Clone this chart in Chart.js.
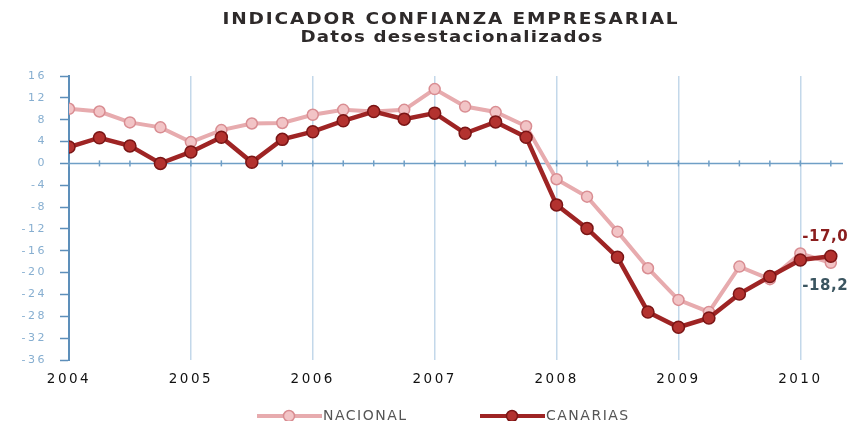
<!DOCTYPE html>
<html>
<head>
<meta charset="utf-8">
<script src="https://cdn.jsdelivr.net/npm/chart.js@4/dist/chart.umd.min.js"></script>
<style>
html,body{margin:0;padding:0;background:#fff;}
#wrap{width:853px;height:421px;position:relative;}
</style>
</head>
<body>
<div id="wrap"><canvas id="c" width="853" height="421"></canvas></div>
<script>
// Quarterly data, 2004 Q1 .. 2010 Q2
const years = ["2004","2005","2006","2007","2008","2009","2010"];
const quarterIndex = [0,1,2,3,4,5,6,7,8,9,10,11,12,13,14,15,16,17,18,19,20,21,22,23,24,25];
const nacional = [10.0,9.5,7.5,6.6,3.9,6.1,7.3,7.4,8.9,9.8,9.5,9.8,13.6,10.4,9.4,6.8,-2.9,-6.1,-12.5,-19.2,-25.0,-27.2,-18.9,-21.2,-16.5,-18.2];
const canarias = [3.0,4.7,3.2,0.0,2.1,4.8,0.2,4.4,5.8,7.8,9.5,8.1,9.2,5.5,7.6,4.8,-7.6,-11.9,-17.2,-27.2,-30.0,-28.3,-23.9,-20.7,-17.7,-17.0];
const yTicks = [16,12,8,4,0,-4,-8,-12,-16,-20,-24,-28,-32,-36];
const endLabels = {canarias:"-17,0", nacional:"-18,2"};
const titleLines = ["INDICADOR CONFIANZA EMPRESARIAL","Datos desestacionalizados"];

const pts = arr => arr.map((v,i)=>({x:quarterIndex[i], y:v}));

// draw text horizontally stretched to a target width (the reference is a stretched image)
function stretchText(ctx, text, cx, cy, target, extraSpacing){
  ctx.letterSpacing = (extraSpacing||0) + 'px';
  const w0 = ctx.measureText(text).width;
  const sx = target / w0;
  ctx.save();
  ctx.translate(cx - target/2, cy);
  ctx.scale(sx, 1);
  ctx.textAlign = 'left';
  ctx.fillText(text, 0, 0);
  ctx.restore();
  ctx.letterSpacing = '0px';
}

const deco = {
  id:'deco',
  beforeDraw(chart){
    chart.ctx.letterSpacing = '2.5px';
  },
  beforeDatasetsDraw(chart){
    const {ctx, scales:{x,y}, chartArea} = chart;
    const y0 = y.getPixelForValue(0);
    ctx.save();
    ctx.strokeStyle = '#6f9fc6';
    ctx.lineWidth = 1.5;
    quarterIndex.forEach(i=>{
      const px = x.getPixelForValue(i);
      ctx.beginPath(); ctx.moveTo(px, y0-3); ctx.lineTo(px, y0+3); ctx.stroke();
    });
    ctx.beginPath(); ctx.moveTo(chartArea.left, y0); ctx.lineTo(chartArea.right, y0); ctx.stroke();
    ctx.restore();
  },
  afterDraw(chart){
    const {ctx, scales:{x,y}} = chart;
    ctx.save();
    ctx.letterSpacing = '0px';
    // title
    ctx.fillStyle = '#2e2a2a';
    ctx.textBaseline = 'middle';
    ctx.font = 'bold 15px "DejaVu Sans"';
    stretchText(ctx, titleLines[0], 451, 20, 457, 1.5);
    ctx.font = 'bold 15px "DejaVu Sans"';
    stretchText(ctx, titleLines[1], 452, 38, 303, 1);
    // end labels
    const lx = x.getPixelForValue(24) + 2;
    ctx.textAlign = 'left';
    ctx.font = 'bold 15px "DejaVu Sans"';
    ctx.letterSpacing = '0.5px';
    ctx.fillStyle = '#8b1e1e';
    ctx.fillText(endLabels.canarias, lx, y.getPixelForValue(canarias[25]) - 19);
    ctx.fillStyle = '#3b5560';
    ctx.fillText(endLabels.nacional, lx, y.getPixelForValue(nacional[25]) + 23);
    // legend
    const ly = 416;
    const items = [
      {label:'NACIONAL', x0:257, line:'#e7abae', fill:'#f2c4c6', stroke:'#d98d92'},
      {label:'CANARIAS', x0:480, line:'#9e2424', fill:'#b3322f', stroke:'#7a1515'}
    ];
    ctx.font = '14px "DejaVu Sans"';
    ctx.letterSpacing = '1.5px';
    items.forEach(it=>{
      ctx.strokeStyle = it.line; ctx.lineWidth = 4;
      ctx.beginPath(); ctx.moveTo(it.x0, ly); ctx.lineTo(it.x0+65, ly); ctx.stroke();
      ctx.fillStyle = it.fill; ctx.strokeStyle = it.stroke; ctx.lineWidth = 1.5;
      ctx.beginPath(); ctx.arc(it.x0+32, ly, 5.5, 0, Math.PI*2); ctx.fill(); ctx.stroke();
      ctx.fillStyle = '#555';
      ctx.fillText(it.label, it.x0+66, ly);
    });
    ctx.restore();
  }
};

new Chart(document.getElementById('c'), {
  type:'line',
  data:{
    datasets:[
      {label:'CANARIAS', data:pts(canarias), order:0,
       borderColor:'#9e2424', borderWidth:4.5, backgroundColor:'#b3322f',
       pointBackgroundColor:'#b3322f', pointBorderColor:'#7a1515', pointBorderWidth:1.5,
       pointRadius:6, tension:0},
      {label:'NACIONAL', data:pts(nacional), order:1,
       borderColor:'#e7abae', borderWidth:4, backgroundColor:'#f2c4c6',
       pointBackgroundColor:'#f2c4c6', pointBorderColor:'#d98d92', pointBorderWidth:1.5,
       pointRadius:5.5, tension:0}
    ]
  },
  options:{
    responsive:false, animation:false,
    layout:{padding:{top:76, right:10, left:0, bottom:0}},
    plugins:{legend:{display:false}, title:{display:false}, tooltip:{enabled:false}},
    scales:{
      x:{type:'linear', min:0, max:25.4,
         afterFit(s){ s.height = 61; },
         afterBuildTicks(s){ s.ticks = quarterIndex.filter(i=>i%4===0).map(v=>({value:v})); },
         border:{display:false},
         grid:{drawTicks:false, color:'#c3d8ea', lineWidth:1.5},
         ticks:{padding:11, color:'#111', font:{family:'DejaVu Sans', size:13.5},
                callback:(v)=> years[v/4]}
      },
      y:{min:-36, max:16,
         afterFit(s){ s.width = 69; },
         afterBuildTicks(s){ s.ticks = yTicks.map(v=>({value:v})); },
         border:{display:true, color:'#5d8fba', width:2},
         grid:{drawOnChartArea:false, tickLength:9, tickColor:'#5d8fba', tickWidth:1.5},
         ticks:{padding:13, color:'#86aed0', font:{family:'DejaVu Sans', size:11}}
      }
    }
  },
  plugins:[deco]
});
</script>
</body>
</html>
